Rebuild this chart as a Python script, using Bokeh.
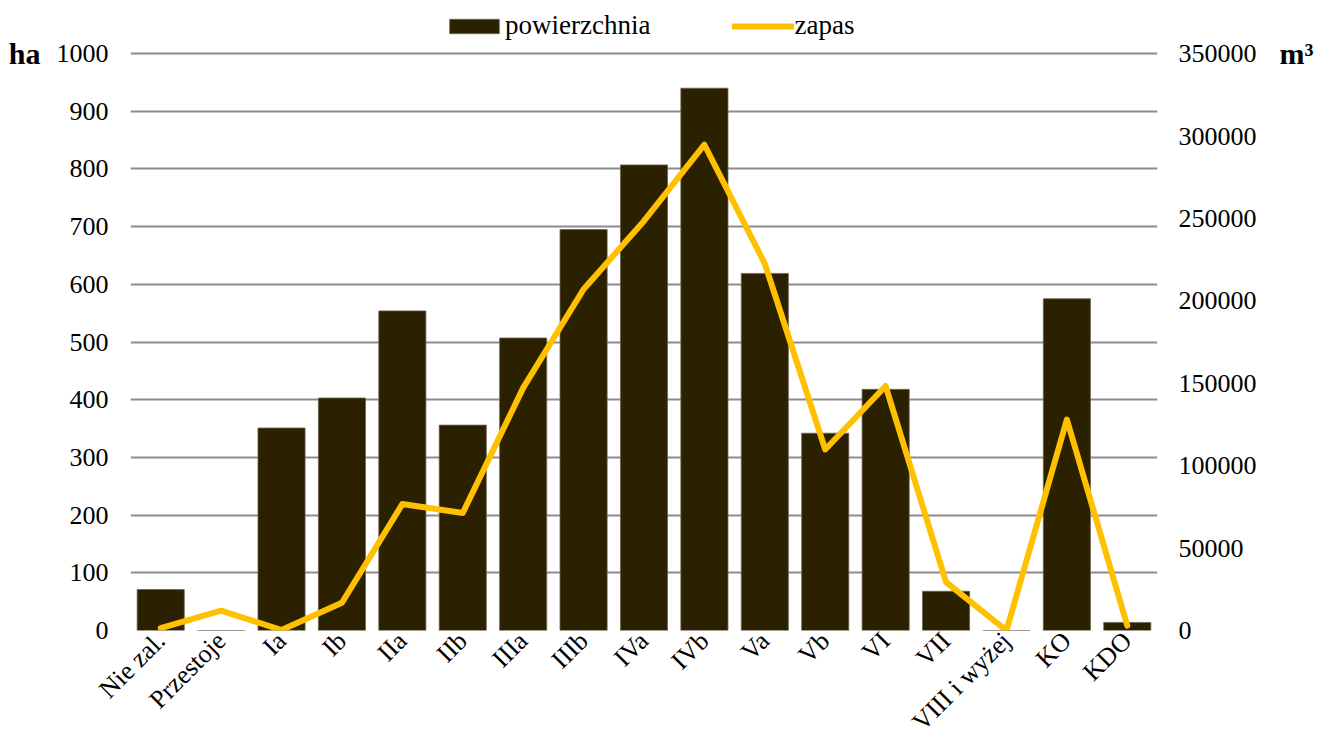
from bokeh.plotting import figure
from bokeh.models import (Range1d, LinearAxis, FixedTicker, NumeralTickFormatter,
                          Legend, LegendItem, ColumnDataSource)
from bokeh.embed import file_html
from bokeh.resources import INLINE
import math

categories = ["Nie zal.", "Przestoje", "Ia", "Ib", "IIa", "IIb", "IIIa", "IIIb",
              "IVa", "IVb", "Va", "Vb", "VI", "VII", "VIII i wyżej", "KO", "KDO"]
powierzchnia = [71, 0, 351, 403, 554, 356, 507, 695, 807, 940, 619, 342, 418, 68, 0, 575, 14]
zapas = [1500, 12000, 300, 16800, 76700, 71300, 147200, 207000, 248500, 294700,
         222500, 109800, 148300, 29300, 0, 128000, 3000]
left_ticks = [0, 100, 200, 300, 400, 500, 600, 700, 800, 900, 1000]
right_ticks = [0, 50000, 100000, 150000, 200000, 250000, 300000, 350000]
left_unit = "ha"
right_unit = "m³"
series_names = ["powierzchnia", "zapas"]

FONT = "Liberation Serif"
BAR = "#2B2000"
LINE = "#FFC000"
GRID = "#8C8C8C"

# plot frame spans the full height; the value axes end at their top tick,
# the area above it holds the legend
TOP_PAD = 629.0 / 576.0
left_max = left_ticks[-1]
right_max = right_ticks[-1]

xs = list(range(1, len(categories) + 1))
src = ColumnDataSource(dict(x=xs, pow=powierzchnia, zap=zapas))

p = figure(width=1317, height=749, output_backend="svg", toolbar_location=None,
           x_range=Range1d(0.5, len(categories) + 0.5),
           y_range=Range1d(0, left_max * TOP_PAD),
           min_border_left=130, min_border_right=160, min_border_top=0,
           min_border_bottom=100)
p.outline_line_color = None
p.background_fill_color = "white"
p.extra_y_ranges = {"r": Range1d(0, right_max * TOP_PAD)}

bars = p.vbar(x="x", top="pow", width=0.78, source=src, fill_color=BAR,
              line_color="#6b6450", line_width=0.8)
line = p.line(x="x", y="zap", y_range_name="r", source=src, line_color=LINE,
              line_width=6, line_join="round", line_cap="round")

p.xgrid.grid_line_color = None
p.ygrid.grid_line_color = GRID
p.ygrid.grid_line_width = 2
p.ygrid.ticker = FixedTicker(ticks=left_ticks)


def style_axis(ax, size="26px", standoff=20, bold=False):
    ax.axis_line_color = None
    ax.major_tick_line_color = None
    ax.minor_tick_line_color = None
    ax.major_tick_out = 0
    ax.major_tick_in = 0
    ax.minor_tick_out = 0
    ax.major_label_text_font = FONT
    ax.major_label_text_font_size = size
    ax.major_label_text_color = "black"
    ax.major_label_standoff = standoff
    if bold:
        ax.major_label_text_font_style = "bold"


xa = p.xaxis[0]
xa.ticker = FixedTicker(ticks=xs)
xa.major_label_overrides = {i: c for i, c in zip(xs, categories)}
xa.major_label_orientation = math.pi / 4
style_axis(xa, standoff=6)

ya = p.yaxis[0]
ya.ticker = FixedTicker(ticks=left_ticks)
style_axis(ya, standoff=22)

ra = LinearAxis(y_range_name="r", ticker=FixedTicker(ticks=right_ticks),
                formatter=NumeralTickFormatter(format="0"))
style_axis(ra, standoff=21)
p.add_layout(ra, "right")

# unit captions as outer axes carrying a single tick at the top value
ha_axis = LinearAxis(ticker=FixedTicker(ticks=[left_max]),
                     major_label_overrides={left_max: left_unit})
style_axis(ha_axis, size="30px", standoff=13, bold=True)
p.add_layout(ha_axis, "left")

m3_axis = LinearAxis(y_range_name="r", ticker=FixedTicker(ticks=[right_max]),
                     major_label_overrides={right_max: right_unit})
style_axis(m3_axis, size="30px", standoff=20, bold=True)
p.add_layout(m3_axis, "right")

legend = Legend(items=[LegendItem(label=series_names[0], renderers=[bars]),
                       LegendItem(label=series_names[1], renderers=[line])],
                orientation="horizontal", location=(313, 589),
                padding=0, margin=0, spacing=82, label_standoff=0,
                glyph_width=62, glyph_height=18,
                border_line_color=None, background_fill_alpha=0,
                label_text_font=FONT, label_text_font_size="27px",
                label_text_color="black")
p.add_layout(legend, "center")

open("out.html", "w").write(file_html(p, INLINE))
